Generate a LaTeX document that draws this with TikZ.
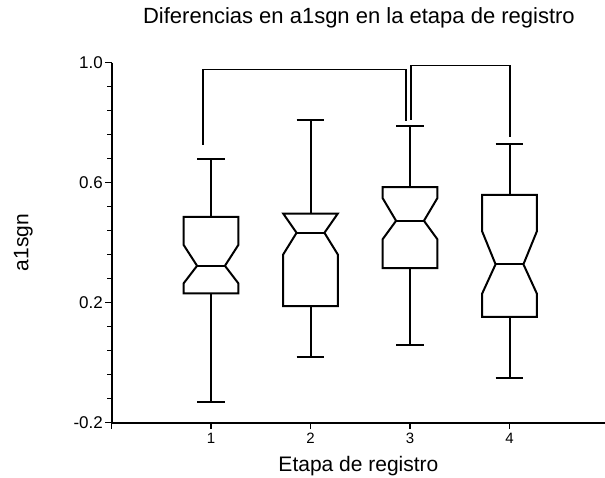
\documentclass[tikz,border=0pt]{standalone}
\usepackage{fontspec}
\setmainfont{Liberation Sans}
\usetikzlibrary{positioning}

\begin{document}
\begin{tikzpicture}[x=99.5pt, y=300pt,
	boxline/.style={line width=2pt, line join=miter},
	axisline/.style={line width=2pt},
	barline/.style={line width=1.6pt},
	ticklabel/.style={font=\fontsize{17}{17}\selectfont, inner sep=1.5pt},
	xticklabel/.style={font=\fontsize{15}{15}\selectfont, inner sep=0pt}]

	\useasboundingbox (-1.1206,-0.381) rectangle (4.9598,1.209);

	% axes
	\coordinate (O) at (0, -0.2);
	\coordinate (T) at (0, 1.0);
	\coordinate (E) at (4.9598, -0.2);
	\draw[axisline] (T) -- (O) -- (E);

	\foreach \k in {0,...,15}
		\draw[line width=1.3pt] (0, -0.2+0.08*\k) -- (-0.05, -0.2+0.08*\k);
	\foreach \v/\t in {-0.2/-0.2, 0.2/0.2, 0.6/0.6, 1.0/1.0} {
		\draw[line width=1.3pt] (0, \v) -- (-0.07, \v);
		\node[ticklabel, left] at (-0.07, \v) {\t};
	}
	\foreach \s in {0,...,4}
		\draw[line width=1.3pt] (\s, -0.2) -- (\s, -0.22);
	\foreach \s in {1,...,4}
		\node[xticklabel] at (\s, -0.252) {\s};

	% titles
	\node (title) at (2.487, 1.149) {\fontsize{22}{22}\selectfont Diferencias en a1sgn en la etapa de registro};
	\node (xlab) at (2.482, -0.345) {\fontsize{21}{21}\selectfont Etapa de registro};
	\node[rotate=90] (ylab) at (-0.886, 0.401) {\fontsize{21}{21}\selectfont a1sgn};

	% box 1
	\draw[boxline] (0.726,0.231) -- (0.726,0.265) -- (0.86,0.323) -- (0.726,0.392) -- (0.726,0.486)
		-- (1.274,0.486) -- (1.274,0.392) -- (1.14,0.323) -- (1.274,0.265) -- (1.274,0.231) -- cycle;
	\draw[boxline] (0.86,0.323) -- (1.14,0.323);
	\draw[boxline] (1,0.486) -- (1,0.679) (0.86,0.679) -- (1.14,0.679);
	\draw[boxline] (1,0.231) -- (1,-0.13) (0.86,-0.13) -- (1.14,-0.13);

	% box 2
	\draw[boxline] (1.726,0.189) -- (1.726,0.361) -- (1.86,0.433) -- (1.726,0.497)
		-- (2.274,0.497) -- (2.14,0.433) -- (2.274,0.361) -- (2.274,0.189) -- cycle;
	\draw[boxline] (1.86,0.433) -- (2.14,0.433);
	\draw[boxline] (2,0.497) -- (2,0.809) (1.86,0.809) -- (2.14,0.809);
	\draw[boxline] (2,0.189) -- (2,0.02) (1.86,0.02) -- (2.14,0.02);

	% box 3
	\draw[boxline] (2.726,0.315) -- (2.726,0.412) -- (2.86,0.473) -- (2.726,0.548) -- (2.726,0.585)
		-- (3.274,0.585) -- (3.274,0.548) -- (3.14,0.473) -- (3.274,0.412) -- (3.274,0.315) -- cycle;
	\draw[boxline] (2.86,0.473) -- (3.14,0.473);
	\draw[boxline] (3,0.585) -- (3,0.789) (2.86,0.789) -- (3.14,0.789);
	\draw[boxline] (3,0.315) -- (3,0.059) (2.86,0.059) -- (3.14,0.059);

	% box 4
	\draw[boxline] (3.726,0.153) -- (3.726,0.231) -- (3.86,0.328) -- (3.726,0.437) -- (3.726,0.559)
		-- (4.274,0.559) -- (4.274,0.437) -- (4.14,0.328) -- (4.274,0.231) -- (4.274,0.153) -- cycle;
	\draw[boxline] (3.86,0.328) -- (4.14,0.328);
	\draw[boxline] (4,0.559) -- (4,0.728) (3.86,0.728) -- (4.14,0.728);
	\draw[boxline] (4,0.153) -- (4,-0.05) (3.86,-0.05) -- (4.14,-0.05);

	% brackets
	\coordinate (B1a) at (0.917, 0.726);
	\coordinate (B1b) at (2.960, 0.806);
	\draw[barline] (B1a) -- (B1a |- 0,0.978) -- (B1b |- 0,0.978) -- (B1b);

	\coordinate (B2a) at (3.010, 0.809);
	\coordinate (B2b) at (4.005, 0.751);
	\draw[barline] (B2a) -- (B2a |- 0,0.991) -- (B2b |- 0,0.991) -- (B2b);

\end{tikzpicture}
\end{document}
